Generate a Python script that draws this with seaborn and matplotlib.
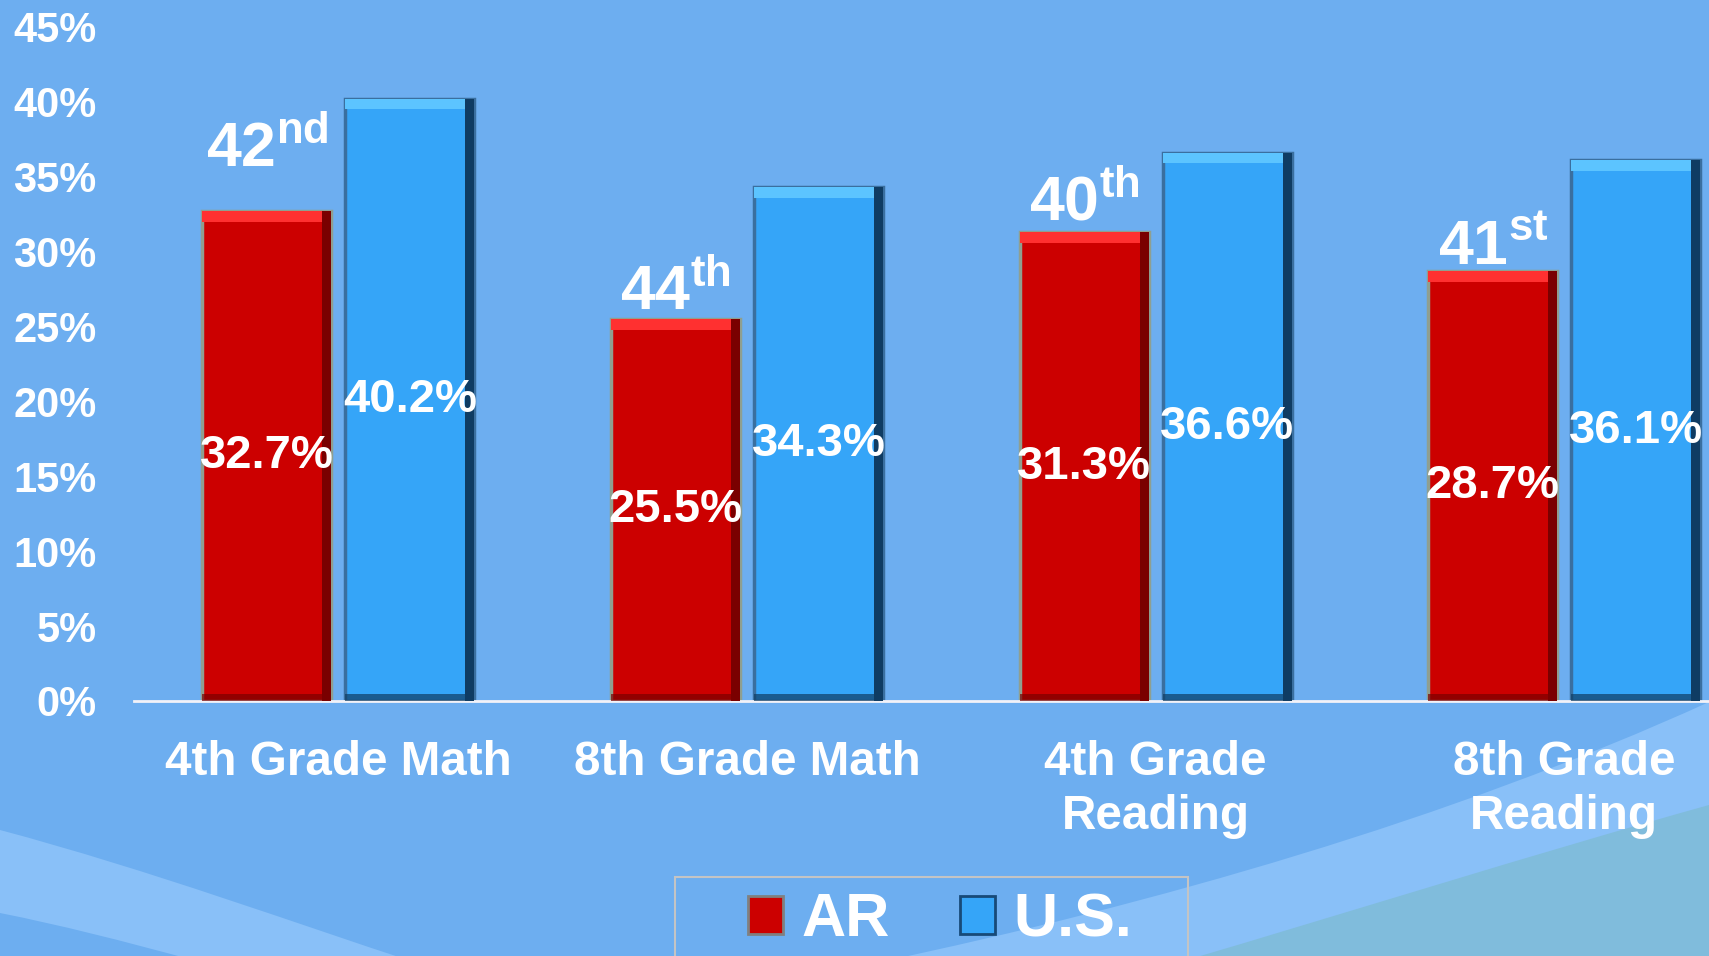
import matplotlib
matplotlib.use('Agg')
import matplotlib.pyplot as plt
from matplotlib.path import Path
from matplotlib.patches import PathPatch, Rectangle, Patch
import seaborn as sns
import pandas as pd

subjects = ['4th Grade Math', '8th Grade Math', '4th Grade\nReading', '8th Grade\nReading']
ar_values = [32.7, 25.5, 31.3, 28.7]
us_values = [40.2, 34.3, 36.6, 36.1]
ar_ranks = ['42', '44', '40', '41']
rank_suffix = ['nd', 'th', 'th', 'st']
groups = ['AR', 'U.S.']
yticks = [0, 5, 10, 15, 20, 25, 30, 35, 40, 45]

df = pd.DataFrame({
    'Subject': subjects + subjects,
    'Value': ar_values + us_values,
    'Group': [groups[0]] * len(subjects) + [groups[1]] * len(subjects),
})

sns.set_theme(style='white')
plt.rcParams['font.family'] = ['Liberation Sans', 'DejaVu Sans']
plt.rcParams['font.weight'] = 'bold'
plt.rcParams['mathtext.fontset'] = 'custom'
plt.rcParams['mathtext.bf'] = 'Liberation Sans:bold'
plt.rcParams['mathtext.rm'] = 'Liberation Sans:bold'

BG = '#6daef0'
RED = '#cc0000'
BLUE = '#35a5f8'

fig = plt.figure(figsize=(17.09, 9.56), dpi=100, facecolor=BG)

# background swooshes (pixel space of the slide)
bg = fig.add_axes([0, 0, 1, 1], zorder=-1)
bg.set_xlim(0, 1709)
bg.set_ylim(956, 0)
bg.axis('off')
C4, L, M, CL = Path.CURVE4, Path.LINETO, Path.MOVETO, Path.CLOSEPOLY
left_band = Path([(0, 830), (150, 870), (300, 925), (414, 962), (200, 962),
                  (120, 940), (60, 925), (0, 913), (0, 830)],
                 [M, C4, C4, C4, L, C4, C4, C4, CL])
right_band = Path([(880, 962), (1150, 905), (1450, 820), (1709, 702), (1709, 962), (880, 962)],
                  [M, C4, C4, C4, L, CL])
teal = Path([(1180, 962), (1350, 912), (1530, 855), (1709, 805), (1709, 962), (1180, 962)],
            [M, C4, C4, C4, L, CL])
bg.add_patch(PathPatch(left_band, facecolor='#89c0f8', edgecolor='none'))
bg.add_patch(PathPatch(right_band, facecolor='#89c0f8', edgecolor='none'))
bg.add_patch(PathPatch(teal, facecolor='#80bcdc', edgecolor='none'))

ax = fig.add_axes([134/1709, 1-701/956, 1-134/1709, (701-27)/956])
ax.set_facecolor('none')
sns.barplot(data=df, x='Subject', y='Value', hue='Group', palette=[RED, BLUE],
            width=0.7, gap=0.1, ax=ax, legend=False, saturation=1)

glow_cols = ['#8f9f90', '#3a6f9f']
hi_cols = ['#ff3030', '#5cc4ff']
sh_cols = ['#7a0000', '#0f3c63']
for k, cont in enumerate(ax.containers):
    for bar in cont:
        bar.set_edgecolor(glow_cols[k])
        bar.set_linewidth(2.5)
        x, w, h = bar.get_x(), bar.get_width(), bar.get_height()
        # bevel: top highlight, right and bottom shade
        ax.add_patch(Rectangle((x, h - 0.7), w, 0.7, facecolor=hi_cols[k], edgecolor='none', zorder=3))
        ax.add_patch(Rectangle((x + w - 0.022, 0), 0.022, h, facecolor=sh_cols[k], edgecolor='none', zorder=3))
        ax.add_patch(Rectangle((x, 0), w, 0.5, facecolor=sh_cols[k], edgecolor='none', zorder=3, alpha=0.7))

for cont, vals in zip(ax.containers, [ar_values, us_values]):
    ax.bar_label(cont, labels=[f'{v:.1f}%' for v in vals], label_type='center',
                 color='white', fontsize=34, fontweight='bold', zorder=5)

rank_pads = [32, 6.5, 8.6, 4.3]
for bar, rank, suf, pad in zip(ax.containers[0], ar_ranks, rank_suffix, rank_pads):
    ax.annotate(r'$\mathbf{' + rank + r'}^{\mathbf{' + suf + r'}}$',
                xy=(bar.get_x() + bar.get_width() / 2, bar.get_height()),
                xytext=(0, pad), textcoords='offset points', ha='center', va='baseline',
                fontsize=45, color='white')

ax.set_xlim(-0.5, 3.354)
ax.set_ylim(0, 45)
ax.set_yticks(yticks)
ax.set_yticklabels([f'{t}%' for t in yticks])
ax.set_xlabel('')
ax.set_ylabel('')
ax.tick_params(axis='x', length=0, pad=28, labelsize=34.3, labelcolor='white')
ax.tick_params(axis='y', length=0, pad=27, labelsize=30, labelcolor='white')
for lab in ax.get_xticklabels():
    lab.set_fontweight('bold')
    lab.set_linespacing(1.25)
for lab in ax.get_yticklabels():
    lab.set_fontweight('bold')
sns.despine(ax=ax, left=True)
ax.spines['bottom'].set_color('#f2f2f8')
ax.spines['bottom'].set_linewidth(2)
ax.grid(False)

handles = [Patch(facecolor=RED, edgecolor='#808080', linewidth=2),
           Patch(facecolor=BLUE, edgecolor='#174a78', linewidth=2)]
fig.legend(handles, groups, loc='center', bbox_to_anchor=(940/1709, 1-921/956), ncol=2,
           frameon=False, prop={'size': 44, 'weight': 'bold'}, labelcolor='white',
           handlelength=0.57, handleheight=0.57, handletextpad=0.3, columnspacing=1.15)
fig.add_artist(Rectangle((675/1709, -0.02), 513/1709, (956-877)/956 + 0.02,
                         transform=fig.transFigure, fill=False, edgecolor='#c4c4c4', linewidth=1.5))

fig.savefig('out.png', dpi=100, facecolor=BG)
